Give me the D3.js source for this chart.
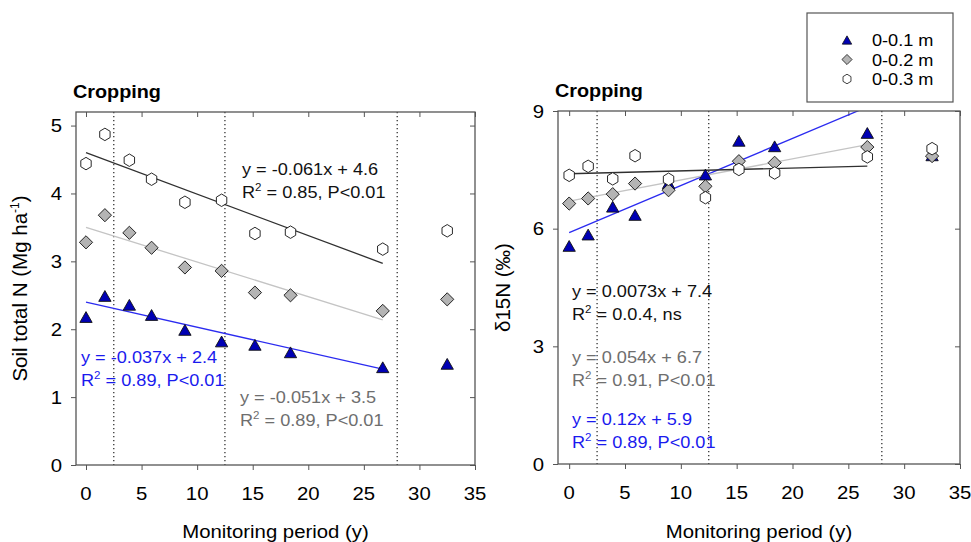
<!DOCTYPE html>
<html>
<head>
<meta charset="utf-8">
<script src="https://cdn.jsdelivr.net/npm/d3@7"></script>
<style>
  body { margin:0; background:#fff; }
  text { font-family: Arial, "Liberation Sans", sans-serif; }
</style>
</head>
<body>
<svg id="chart" width="971" height="542"></svg>
<script>
// monitoring years
var years = [0, 1.7, 3.9, 5.9, 8.9, 12.2, 15.2, 18.4, 26.7, 32.5];
var depths = ["0-0.1 m", "0-0.2 m", "0-0.3 m"];

// soil total N (Mg/ha)
var totN01 = [2.18, 2.49, 2.36, 2.21, 1.99, 1.82, 1.77, 1.66, 1.44, 1.49];
var totN02 = [3.28, 3.68, 3.42, 3.20, 2.91, 2.86, 2.54, 2.50, 2.27, 2.44];
var totN03 = [4.44, 4.87, 4.49, 4.21, 3.87, 3.90, 3.41, 3.43, 3.18, 3.45];

// delta 15N (permil)
var d15N01 = [5.56, 5.85, 6.56, 6.35, 7.16, 7.38, 8.24, 8.10, 8.44, 7.87];
var d15N02 = [6.64, 6.77, 6.88, 7.15, 6.98, 7.08, 7.72, 7.68, 8.08, 7.85];
var d15N03 = [7.36, 7.59, 7.27, 7.86, 7.26, 6.79, 7.51, 7.42, 7.83, 8.04];

// regression fits [slope, intercept], fitted over 0..26.7
var fitN = [[-0.037, 2.4], [-0.051, 3.5], [-0.061, 4.6]];
var fitD = [[0.12, 5.9], [0.054, 6.7], [0.0073, 7.4]];
var fitRange = [0, 26.7];

var periodBreaks = [2.5, 12.5, 28];
var xTicks = [0, 5, 10, 15, 20, 25, 30, 35];
var nTicks = [0, 1, 2, 3, 4, 5];
var dTicks = [0, 3, 6, 9];

var SX = 1.1; // the source picture is a little wide
var fills = ["#0000b4", "#b4b4b4", "#ffffff"];
var lineCols = ["#2b2bf0", "#c4c4c4", "#303030"];
var textCols = ["#1a1aee", "#6e6e6e", "#111"];

var svg = d3.select("#chart");

function shape(kind, r) {
  if (kind == 0) { // triangle
    var h = r * 1.8, w = r * 2.05;
    return "M0," + (-h/2) + "L" + (w/2) + "," + (h/2) + "L" + (-w/2) + "," + (h/2) + "Z";
  }
  if (kind == 1) { // diamond
    var d = r * 1.1;
    return "M0," + (-d) + "L" + d + ",0L0," + d + "L" + (-d) + ",0Z";
  }
  var p = [];
  for (var k = 0; k < 6; k++) {
    var a = Math.PI/2 + k*Math.PI/3;
    p.push([Math.cos(a)*r, -Math.sin(a)*r*1.04]);
  }
  return "M" + p.map(function(q){ return q[0].toFixed(2)+","+q[1].toFixed(2); }).join("L") + "Z";
}

function stext(g, x, y, size, anchor) {
  return g.append("text")
    .attr("transform", "translate(" + x + "," + y + ") scale(" + SX + ",1)")
    .attr("font-size", size)
    .attr("text-anchor", anchor || "start");
}

function rsq(g, x, y, eq, rest, col) {
  stext(g, x, y, 16.5).attr("fill", col).text(eq);
  var t = stext(g, x, y + 23, 16.5).attr("fill", col);
  t.append("tspan").text("R");
  t.append("tspan").attr("font-size", 10.5).attr("dy", -7).text("2");
  t.append("tspan").attr("dy", 7).text(" = " + rest);
}

function panel(box, ydom, yticks, series, fits, ylab, notes) {
  var x = d3.scaleLinear().domain(box.xd).range([box.x0, box.x1]);
  var y = d3.scaleLinear().domain(ydom).range([box.y1, box.y0]);
  var g = svg.append("g");

  var axes = [
    [d3.axisBottom(x).tickValues(xTicks).tickSize(5), "translate(0," + box.y1 + ")"],
    [d3.axisTop(x).tickValues(xTicks).tickSize(-5), "translate(0," + box.y0 + ")"],
    [d3.axisLeft(y).tickValues(yticks).tickSize(5), "translate(" + box.x0 + ",0)"],
    [d3.axisRight(y).tickValues(yticks).tickSize(-5), "translate(" + box.x1 + ",0)"]
  ];
  axes.forEach(function(a) {
    var ag = g.append("g").attr("transform", a[1]).call(a[0]);
    ag.select(".domain").remove();
    ag.selectAll(".tick line").attr("stroke", "#555");
    ag.selectAll(".tick text").remove();
  });
  xTicks.forEach(function(v) {
    stext(g, x(v), box.y1 + 35, 18.5, "middle").attr("fill", "#000").text(v);
  });
  yticks.forEach(function(v) {
    stext(g, box.x0 - 14, y(v) + 6.5, 18.5, "end").attr("fill", "#000").text(v);
  });

  g.selectAll(".brk").data(periodBreaks).enter().append("line")
    .attr("x1", function(d){ return x(d); }).attr("x2", function(d){ return x(d); })
    .attr("y1", box.y0).attr("y2", box.y1)
    .attr("stroke", "#222").attr("stroke-width", 1.2).attr("stroke-dasharray", "1.3,2.7");

  var clipId = "clip" + box.x0;
  svg.append("clipPath").attr("id", clipId).append("rect")
    .attr("x", box.x0).attr("y", box.y0).attr("width", box.x1 - box.x0).attr("height", box.y1 - box.y0);

  g.append("g").attr("clip-path", "url(#" + clipId + ")")
    .selectAll(".fit").data(fits).enter().append("line")
    .attr("x1", x(fitRange[0])).attr("x2", x(fitRange[1]))
    .attr("y1", function(d){ return y(d[1] + d[0]*fitRange[0]); })
    .attr("y2", function(d){ return y(d[1] + d[0]*fitRange[1]); })
    .attr("stroke", function(d, i){ return lineCols[i]; })
    .attr("stroke-width", 1.3);

  series.forEach(function(vals, s) {
    g.selectAll(".m" + s).data(vals).enter().append("path")
      .attr("d", shape(s, 6))
      .attr("transform", function(d, i){ return "translate(" + x(years[i]) + "," + y(d) + ")"; })
      .attr("fill", fills[s]).attr("stroke", "#111").attr("stroke-width", 0.9);
  });

  g.append("rect").attr("x", box.x0).attr("y", box.y0)
    .attr("width", box.x1 - box.x0).attr("height", box.y1 - box.y0)
    .attr("fill", "none").attr("stroke", "#555").attr("stroke-width", 1.3);

  stext(g, box.x0 - 3, box.y0 - 14, 18).attr("font-weight", "bold").text("Cropping");

  stext(g, (box.x0 + box.x1)/2, 538, 18.5, "middle").text("Monitoring period (y)");

  var yl = g.append("text")
    .attr("transform", "translate(" + box.ylx + "," + ((box.y0 + box.y1)/2) + ") rotate(-90)")
    .attr("font-size", 20.5).attr("text-anchor", "middle");
  ylab(yl);

  notes.forEach(function(n) { rsq(g, n.x, n.y, n.eq, n.rest, textCols[n.s]); });
}

panel({x0: 76, x1: 475, y0: 112, y1: 465, xd: [-0.9, 35], ylx: 27},
  [0, 5.2], nTicks, [totN01, totN02, totN03], fitN,
  function(t) {
    t.append("tspan").text("Soil total N (Mg ha");
    t.append("tspan").attr("font-size", 12).attr("dy", -8).text("-1");
    t.append("tspan").attr("dy", 8).text(")");
  },
  [{s: 2, x: 242, y: 175, eq: "y = -0.061x + 4.6", rest: "0.85, P<0.01"},
   {s: 0, x: 81, y: 363, eq: "y = -0.037x + 2.4", rest: "0.89, P<0.01"},
   {s: 1, x: 240, y: 403, eq: "y = -0.051x + 3.5", rest: "0.89, P<0.01"}]);

panel({x0: 558, x1: 960, y0: 111, y1: 464, xd: [-1, 35], ylx: 510},
  [0, 9], dTicks, [d15N01, d15N02, d15N03], fitD,
  function(t) { t.text("δ15N (‰)"); },
  [{s: 2, x: 572, y: 297, eq: "y = 0.0073x + 7.4", rest: "0.0.4, ns"},
   {s: 1, x: 572, y: 363, eq: "y = 0.054x + 6.7", rest: "0.91, P<0.01"},
   {s: 0, x: 572, y: 425, eq: "y = 0.12x + 5.9", rest: "0.89, P<0.01"}]);

// legend
var lg = svg.append("g");
lg.append("rect").attr("x", 807).attr("y", 13).attr("width", 146).attr("height", 89)
  .attr("fill", "#fff").attr("stroke", "#555").attr("stroke-width", 1.2);
depths.forEach(function(d, i) {
  lg.append("path").attr("d", shape(i, 4.6))
    .attr("transform", "translate(847," + (40 + i*19.5) + ")")
    .attr("fill", fills[i]).attr("stroke", "#111").attr("stroke-width", 0.8);
  stext(lg, 872, 46 + i*19.5, 16.5).text(d);
});
</script>
</body>
</html>
